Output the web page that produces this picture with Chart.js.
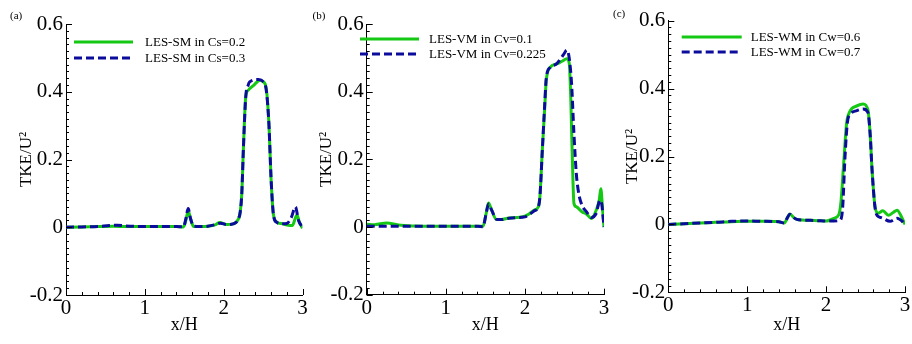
<!DOCTYPE html>
<html>
<head>
<meta charset="utf-8">
<script src="https://cdn.jsdelivr.net/npm/chart.js@4/dist/chart.umd.min.js"></script>
<style>
  html, body { margin: 0; padding: 0; background: #fff; }
  #wrap { position: relative; width: 912px; height: 344px; overflow: hidden; background: #fff; }
  canvas { position: absolute; top: 0; }
</style>
</head>
<body>
<div id="wrap">
  <canvas id="cA" style="left:0px"></canvas>
  <canvas id="cB" style="left:300px"></canvas>
  <canvas id="cC" style="left:606px"></canvas>
</div>
<script>
// ---------- Data ----------
const xTicks = [0, 1, 2, 3];
const yTicks = [-0.2, 0, 0.2, 0.4, 0.6];

// Panel (a) LES-SM
const aGreenLabel = 'LES-SM in Cs=0.2';
const aGreenX = [0, 0.2, 0.4, 0.6, 0.8, 1.0, 1.2, 1.4, 1.49, 1.52, 1.55, 1.58, 1.62, 1.7, 1.8, 1.9, 1.95, 2.04, 2.12, 2.19, 2.21, 2.23, 2.25, 2.28, 2.31, 2.38, 2.46, 2.5, 2.54, 2.575, 2.6, 2.63, 2.67, 2.75, 2.82, 2.87, 2.93, 2.96, 3.0];
const aGreenY = [0, 0.001, 0.002, 0.003, 0.002, 0.002, 0.002, 0.002, 0.001, 0.02, 0.048, 0.025, 0.002, 0.002, 0.003, 0.008, 0.014, 0.008, 0.01, 0.026, 0.045, 0.1, 0.23, 0.385, 0.404, 0.419, 0.434, 0.43, 0.41, 0.3, 0.15, 0.04, 0.016, 0.01, 0.006, 0.005, 0.036, 0.015, -0.003];
const aBlueLabel = 'LES-SM in Cs=0.3';
const aBlueX = [0, 0.2, 0.4, 0.55, 0.65, 0.75, 1.0, 1.2, 1.4, 1.49, 1.52, 1.55, 1.58, 1.62, 1.7, 1.8, 1.9, 1.96, 2.04, 2.12, 2.19, 2.21, 2.23, 2.25, 2.28, 2.31, 2.33, 2.44, 2.5, 2.54, 2.575, 2.6, 2.63, 2.67, 2.75, 2.8, 2.86, 2.91, 2.95, 3.0];
const aBlueY = [0, 0.001, 0.002, 0.005, 0.006, 0.004, 0.002, 0.002, 0.002, 0.001, 0.025, 0.055, 0.025, 0.003, 0.002, 0.003, 0.008, 0.012, 0.008, 0.01, 0.026, 0.045, 0.1, 0.23, 0.385, 0.419, 0.429, 0.436, 0.43, 0.405, 0.3, 0.15, 0.04, 0.015, 0.01, 0.011, 0.03, 0.06, 0.02, 0];

// Panel (b) LES-VM
const bGreenLabel = 'LES-VM in Cv=0.1';
const bGreenX = [0, 0.1, 0.25, 0.4, 0.6, 0.8, 1.0, 1.2, 1.4, 1.47, 1.51, 1.54, 1.58, 1.64, 1.7, 1.8, 1.9, 2.0, 2.06, 2.12, 2.17, 2.19, 2.22, 2.25, 2.27, 2.32, 2.4, 2.47, 2.53, 2.56, 2.58, 2.6, 2.62, 2.65, 2.72, 2.78, 2.84, 2.91, 2.94, 2.96, 2.98, 3.0];
const bGreenY = [0.008, 0.007, 0.012, 0.006, 0.003, 0.002, 0.002, 0.002, 0.002, 0.002, 0.04, 0.071, 0.05, 0.022, 0.022, 0.027, 0.028, 0.032, 0.04, 0.05, 0.06, 0.09, 0.226, 0.35, 0.433, 0.472, 0.482, 0.49, 0.497, 0.485, 0.38, 0.2, 0.07, 0.06, 0.045, 0.038, 0.025, 0.055, 0.08, 0.113, 0.06, 0];
const bBlueLabel = 'LES-VM in Cv=0.225';
const bBlueX = [0, 0.2, 0.4, 0.6, 0.8, 1.0, 1.2, 1.4, 1.47, 1.51, 1.54, 1.58, 1.64, 1.7, 1.8, 1.9, 2.0, 2.06, 2.12, 2.17, 2.19, 2.22, 2.25, 2.27, 2.32, 2.4, 2.49, 2.53, 2.56, 2.59, 2.62, 2.65, 2.68, 2.72, 2.78, 2.84, 2.9, 2.95, 2.97, 3.0];
const bBlueY = [0.002, 0.002, 0.002, 0.002, 0.002, 0.002, 0.002, 0.002, 0.001, 0.04, 0.068, 0.05, 0.023, 0.022, 0.026, 0.028, 0.03, 0.038, 0.048, 0.06, 0.09, 0.226, 0.36, 0.44, 0.472, 0.482, 0.51, 0.523, 0.5, 0.424, 0.276, 0.158, 0.1, 0.065, 0.045, 0.028, 0.04, 0.079, 0.07, 0];

// Panel (c) LES-WM
const cGreenLabel = 'LES-WM in Cw=0.6';
const cGreenX = [0, 0.2, 0.4, 0.6, 0.8, 1.0, 1.2, 1.4, 1.47, 1.51, 1.54, 1.59, 1.63, 1.7, 1.8, 1.9, 2.0, 2.05, 2.1, 2.16, 2.19, 2.22, 2.26, 2.3, 2.39, 2.47, 2.53, 2.56, 2.58, 2.62, 2.66, 2.72, 2.79, 2.85, 2.9, 2.95, 3.0];
const cGreenY = [0, 0.002, 0.004, 0.006, 0.008, 0.009, 0.009, 0.008, 0.004, 0.02, 0.031, 0.02, 0.015, 0.013, 0.012, 0.011, 0.01, 0.013, 0.018, 0.028, 0.07, 0.17, 0.298, 0.332, 0.349, 0.355, 0.337, 0.26, 0.17, 0.052, 0.033, 0.04, 0.027, 0.035, 0.042, 0.025, 0];
const cBlueLabel = 'LES-WM in Cw=0.7';
const cBlueX = [0, 0.2, 0.4, 0.6, 0.8, 1.0, 1.2, 1.4, 1.47, 1.51, 1.54, 1.59, 1.63, 1.7, 1.8, 1.9, 2.0, 2.1, 2.18, 2.21, 2.24, 2.27, 2.31, 2.39, 2.47, 2.53, 2.56, 2.58, 2.62, 2.65, 2.7, 2.81, 2.9, 2.96, 3.0];
const cBlueY = [0, 0.002, 0.004, 0.006, 0.009, 0.01, 0.009, 0.008, 0.004, 0.02, 0.03, 0.02, 0.015, 0.013, 0.012, 0.011, 0.01, 0.01, 0.013, 0.05, 0.2, 0.3, 0.325, 0.335, 0.34, 0.33, 0.26, 0.17, 0.05, 0.025, 0.02, 0.009, 0.018, 0.01, 0];

// ---------- Styling / layout ----------
const FONT = "'Liberation Serif', 'Times New Roman', serif";
const GREEN = '#14c814';
const BLUE = '#0c0c9c';

function pts(xs, ys) { return xs.map((x, i) => ({ x: x, y: ys[i] })); }

const insideTicks = {
  id: 'insideTicks',
  afterDraw(chart) {
    const { ctx, chartArea, scales } = chart;
    const xs = scales.x, ys = scales.y;
    ctx.save();
    ctx.strokeStyle = '#000';
    ctx.lineWidth = 1;
    ctx.beginPath();
    for (let i = 0; i <= 40; i++) {
      const v = -0.2 + i * 0.02;
      const py = Math.round(ys.getPixelForValue(v)) + 0.5;
      const len = (i % 10 === 0) ? 6 : 3;
      ctx.moveTo(chartArea.left, py);
      ctx.lineTo(chartArea.left + len, py);
    }
    for (let i = 0; i <= 15; i++) {
      const v = i * 0.2;
      const px = Math.round(xs.getPixelForValue(v)) + 0.5;
      const len = (i % 5 === 0) ? 6 : 3;
      ctx.moveTo(px, chartArea.bottom);
      ctx.lineTo(px, chartArea.bottom - len);
    }
    ctx.stroke();
    ctx.restore();
  }
};

const legendAndTag = {
  id: 'legendAndTag',
  afterDraw(chart, args, opts) {
    const { ctx } = chart;
    ctx.save();
    // panel tag
    ctx.font = '11px ' + FONT;
    ctx.fillStyle = '#000';
    ctx.textBaseline = 'middle';
    ctx.textAlign = 'left';
    ctx.fillText(opts.tag, opts.tagX, opts.tagY);
    // legend
    const items = chart.data.datasets.slice().sort((a, b) => a.legendRank - b.legendRank);
    items.forEach((ds, i) => {
      const y = opts.ly + i * opts.gap;
      ctx.beginPath();
      ctx.strokeStyle = ds.borderColor;
      ctx.lineWidth = ds.borderWidth;
      ctx.setLineDash(ds.borderDash || []);
      ctx.moveTo(opts.lx, y);
      ctx.lineTo(opts.lx + opts.lw, y);
      ctx.stroke();
      ctx.setLineDash([]);
      ctx.font = '13px ' + FONT;
      ctx.fillStyle = '#000';
      ctx.fillText(ds.label, opts.tx, y + 1);
    });
    ctx.restore();
  }
};

function makePanel(id, cw, area, gLabel, gx, gy, bLabel, bx, by, leg) {
  const el = document.getElementById(id);
  el.width = cw; el.height = 344;
  el.style.width = cw + 'px'; el.style.height = '344px';
  return new Chart(el, {
    type: 'line',
    data: {
      datasets: [
        { label: bLabel, data: pts(bx, by), borderColor: BLUE, borderWidth: 3, borderDash: [8, 4],
          pointRadius: 0, cubicInterpolationMode: 'monotone', order: 1, legendRank: 2, fill: false },
        { label: gLabel, data: pts(gx, gy), borderColor: GREEN, borderWidth: 3,
          pointRadius: 0, cubicInterpolationMode: 'monotone', order: 2, legendRank: 1, fill: false }
      ]
    },
    options: {
      responsive: false,
      animation: false,
      events: [],
      layout: { padding: { left: 0, top: area.top, right: cw - area.right, bottom: 0 } },
      plugins: {
        legend: { display: false },
        tooltip: { enabled: false },
        legendAndTag: leg
      },
      scales: {
        x: {
          type: 'linear', min: 0, max: 3,
          afterFit(s) { s.height = 344 - area.bottom; },
          afterBuildTicks(s) { s.ticks = xTicks.map(v => ({ value: v })); },
          grid: { display: true, drawOnChartArea: false, drawTicks: false },
          border: { display: true, color: '#000', width: 1 },
          ticks: { color: '#000', font: { family: FONT, size: 21 }, padding: 1, maxRotation: 0 },
          title: { display: true, text: 'x/H', color: '#000', font: { family: FONT, size: 18 }, padding: { top: 0, bottom: 8 } }
        },
        y: {
          type: 'linear', min: -0.2, max: 0.6,
          afterFit(s) { s.width = area.left; },
          afterBuildTicks(s) { s.ticks = yTicks.map(v => ({ value: v })); },
          grid: { display: true, drawOnChartArea: false, drawTicks: false },
          border: { display: true, color: '#000', width: 1 },
          ticks: { color: '#000', font: { family: FONT, size: 21 }, padding: 3,
                   callback: (v) => (Math.abs(v) < 1e-9 ? '0' : v.toFixed(1)) },
          title: { display: true, text: 'TKE/U²', color: '#000', font: { family: FONT, size: 17 }, padding: { top: 16, bottom: 0 } }
        }
      }
    },
    plugins: [insideTicks, legendAndTag]
  });
}

makePanel('cA', 312, { left: 66, right: 302.5, top: 24, bottom: 295 },
  aGreenLabel, aGreenX, aGreenY, aBlueLabel, aBlueX, aBlueY,
  { tag: '(a)', tagX: 10, tagY: 16, lx: 74, lw: 59, ly: 42, gap: 16, tx: 145 });
makePanel('cB', 312, { left: 66.7, right: 304, top: 24, bottom: 294.7 },
  bGreenLabel, bGreenX, bGreenY, bBlueLabel, bBlueX, bBlueY,
  { tag: '(b)', tagX: 12.5, tagY: 16, lx: 60, lw: 59, ly: 39, gap: 15, tx: 129 });
makePanel('cC', 306, { left: 62.3, right: 299, top: 20.7, bottom: 292.3 },
  cGreenLabel, cGreenX, cGreenY, cBlueLabel, cBlueX, cBlueY,
  { tag: '(c)', tagX: 7, tagY: 14, lx: 75.7, lw: 60, ly: 37, gap: 15, tx: 144.7 });
</script>
</body>
</html>
